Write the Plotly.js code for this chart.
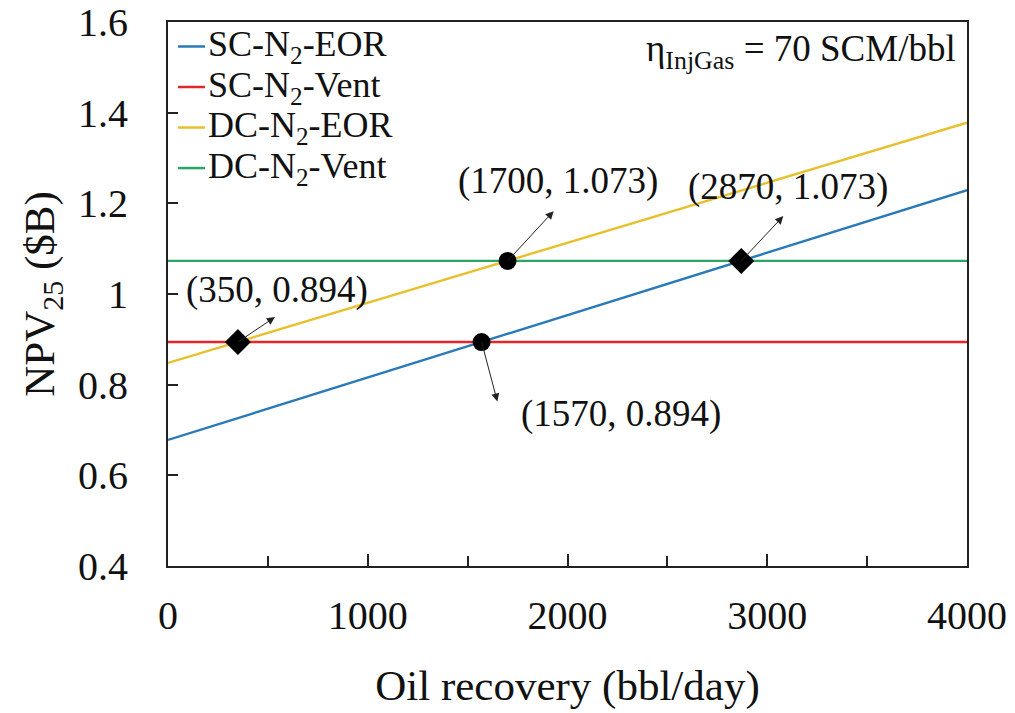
<!DOCTYPE html>
<html>
<head>
<meta charset="utf-8">
<script src="https://cdn.plot.ly/plotly-3.0.1.min.js"></script>
<style>html,body{margin:0;padding:0;background:#fff;}#chart{width:1015px;height:713px;}</style>
</head>
<body>
<div id="chart"></div>
<script>
// Data
const xRange = [0, 4000];
const scEor = [0.678, 1.229];
const scVent = [0.894, 0.894];
const dcEor = [0.848, 1.378];
const dcVent = [1.073, 1.073];
const seriesNames = ['SC-N<sub>2</sub>-EOR', 'SC-N<sub>2</sub>-Vent', 'DC-N<sub>2</sub>-EOR', 'DC-N<sub>2</sub>-Vent'];
const circleX = [1570, 1700];
const circleY = [0.894, 1.073];
const diamondX = [350, 2870];
const diamondY = [0.894, 1.073];
const pointLabels = ['(350, 0.894)', '(1570, 0.894)', '(1700, 1.073)', '(2870, 1.073)'];
const pointX = [350, 1570, 1700, 2870];
const pointY = [0.894, 0.894, 1.073, 1.073];
const noteText = 'η<sub>InjGas</sub> = 70 SCM/bbl';

const colors = ['#2A7AB8', '#E2262A', '#E8C02C', '#2BA466'];
const font = 'Liberation Serif, Times New Roman, serif';

const traces = [scEor, scVent, dcEor, dcVent].map((ys, i) => ({
  x: xRange, y: ys, mode: 'lines', name: seriesNames[i], showlegend: false,
  line: {color: colors[i], width: 2.4}
}));
traces.push({x: circleX, y: circleY, mode: 'markers', showlegend: false,
  marker: {symbol: 'circle', size: 18, color: '#000'}});
traces.push({x: diamondX, y: diamondY, mode: 'markers', showlegend: false,
  marker: {symbol: 'diamond', size: 20, color: '#000'}});

// arrow offsets (px) and label offsets (px) for each point
const arrowOff = [[40, -27], [18, 68], [49, -53], [45, -48]];
const labelOff = [[39, 52], [139, -72], [50, 80], [47, 74]];

const annotations = [];
const shapes = [];
pointX.forEach((px, i) => {
  annotations.push({x: px, y: pointY[i], xref: 'x', yref: 'y', text: ' ',
    showarrow: true, arrowside: 'start', arrowhead: 2, arrowsize: 1.6,
    startarrowhead: 2, startarrowsize: 1.6, arrowwidth: 1,
    arrowcolor: '#222', ax: arrowOff[i][0], ay: arrowOff[i][1], standoff: 0, startstandoff: 0});
  annotations.push({x: px, y: pointY[i], xref: 'x', yref: 'y', text: pointLabels[i],
    showarrow: false, xshift: labelOff[i][0], yshift: labelOff[i][1],
    font: {family: font, size: 37, color: '#111'}});
});
annotations.push({xref: 'paper', yref: 'paper', x: 0.989, y: 0.993, xanchor: 'right', yanchor: 'top',
  text: noteText, showarrow: false,
  font: {family: font, size: 37, color: '#111'}});

// legend drawn inside the plot, top-left
const legTop = 0.955, legStep = 0.0745;
seriesNames.forEach((nm, i) => {
  const yy = legTop - i * legStep;
  shapes.push({type: 'line', xref: 'paper', yref: 'paper', x0: 0.0125, x1: 0.0463, y0: yy, y1: yy,
    line: {color: colors[i], width: 2.5}});
  annotations.push({xref: 'paper', yref: 'paper', x: 0.0475, y: yy, xanchor: 'left', yanchor: 'middle',
    text: nm, showarrow: false, font: {family: font, size: 36, color: '#111'}});
});

const layout = {
  width: 1015, height: 713,
  margin: {l: 168, r: 48, t: 22, b: 147},
  paper_bgcolor: '#fff', plot_bgcolor: '#fff',
  font: {family: font, color: '#111'},
  showlegend: false,
  xaxis: {range: [0, 4000], dtick: 1000, tick0: 0, ticks: 'inside', ticklen: 12, tickwidth: 2,
    tickcolor: '#222', showgrid: false, zeroline: false, showline: true, linecolor: '#222',
    linewidth: 2, mirror: true, ticklabelstandoff: 13,
    minor: {dtick: 500, ticks: 'inside', ticklen: 10, tickwidth: 2, tickcolor: '#222', showgrid: false},
    tickfont: {family: font, size: 40, color: '#111'},
    title: {text: 'Oil recovery (bbl/day)', font: {family: font, size: 43, color: '#111'}, standoff: 33}},
  yaxis: {range: [0.4, 1.6], dtick: 0.2, tick0: 0.4, ticks: 'inside', ticklen: 10, tickwidth: 2,
    tickcolor: '#222', showgrid: false, zeroline: false, showline: true, linecolor: '#222',
    linewidth: 2, mirror: true, ticklabelstandoff: 30,
    tickfont: {family: font, size: 40, color: '#111'},
    tickformat: '~g',
    title: {text: 'NPV<sub>25</sub> ($B)', font: {family: font, size: 43, color: '#111'}, standoff: 10}},
  annotations: annotations,
  shapes: shapes
};

Plotly.newPlot('chart', traces, layout, {staticPlot: true, displayModeBar: false});
</script>
</body>
</html>
